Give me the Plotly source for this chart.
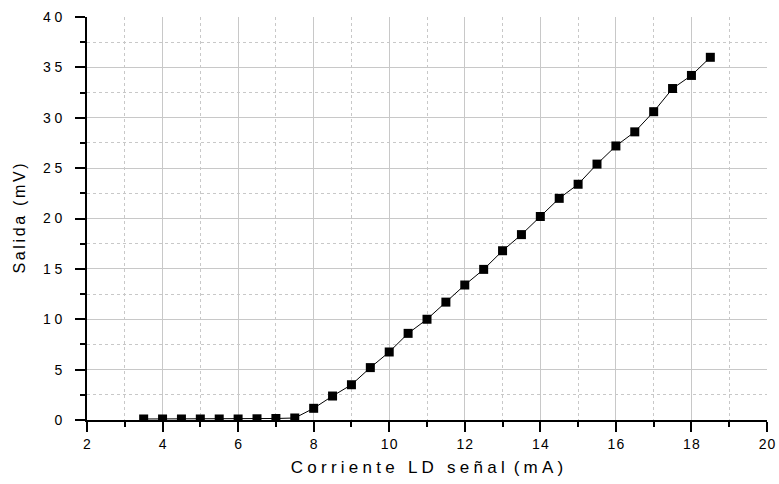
import plotly.graph_objects as go

# Laser diode drive current (mA) and measured output (mV)
corriente = [3.5, 4.0, 4.5, 5.0, 5.5, 6.0, 6.5, 7.0, 7.5, 8.0, 8.5, 9.0, 9.5, 10.0,
             10.5, 11.0, 11.5, 12.0, 12.5, 13.0, 13.5, 14.0, 14.5, 15.0, 15.5, 16.0,
             16.5, 17.0, 17.5, 18.0, 18.5]
salida = [0.1, 0.1, 0.1, 0.1, 0.1, 0.1, 0.12, 0.15, 0.2, 1.16, 2.38, 3.5, 5.2, 6.75,
          8.6, 10.0, 11.7, 13.4, 14.95, 16.8, 18.4, 20.2, 22.0, 23.4, 25.4, 27.2,
          28.6, 30.6, 32.9, 34.2, 36.0]

x_ticks = [2, 4, 6, 8, 10, 12, 14, 16, 18, 20]
y_ticks = [0, 5, 10, 15, 20, 25, 30, 35, 40]

QS = "\u2005"   # quarter-em letter spacing
SS = "\u2006"   # sixth-em letter spacing
HS = "\u200a"   # hair space
NB = "\u00a0"   # non-breaking word space


def spaced(s, sp=QS):
    return sp.join(NB if c == " " else c for c in s)


fig = go.Figure()
fig.add_trace(go.Scatter(
    x=corriente, y=salida, mode="lines+markers",
    line=dict(color="black", width=1),
    marker=dict(symbol="square", size=9, color="black"),
    showlegend=False,
))

font = "Liberation Sans"
axis_common = dict(
    showline=True, linecolor="black", linewidth=2,
    ticks="outside", ticklen=10, tickwidth=2, tickcolor="black",
    showgrid=True, gridcolor="#c8c8c8", gridwidth=1,
    zeroline=False, mirror=False, automargin=False,
    tickfont=dict(family=font, size=14, color="black"),
)

word_gap = QS + NB + QS
x_title = (word_gap.join([spaced("Corriente"), spaced("LD"), spaced("señal")])
           + QS + NB + spaced("(mA)"))
y_title = spaced("Salida (mV)", SS)

fig.update_xaxes(
    range=[2, 20], tickvals=x_ticks, ticktext=[spaced(str(v), HS) for v in x_ticks],
    minor=dict(dtick=1, tick0=2, ticks="outside", ticklen=5, tickwidth=2,
               tickcolor="black", showgrid=True, gridcolor="#c8c8c8",
               griddash="dot", gridwidth=1),
    title=dict(text=x_title, font=dict(family=font, size=17, color="black"), standoff=10),
    **axis_common,
)
fig.update_yaxes(
    range=[0, 40], tickvals=y_ticks, ticktext=[spaced(str(v)) for v in y_ticks],
    ticklabelstandoff=10,
    minor=dict(dtick=2.5, tick0=0, ticks="outside", ticklen=5, tickwidth=2,
               tickcolor="black", showgrid=True, gridcolor="#c8c8c8",
               griddash="dot", gridwidth=1),
    title=dict(text=y_title, font=dict(family=font, size=16, color="black"),
               standoff=14),
    **axis_common,
)

fig.update_layout(
    width=779, height=484,
    margin=dict(l=87, r=12, t=17, b=64),
    plot_bgcolor="white", paper_bgcolor="white",
    font=dict(family=font, color="black"),
)

fig.write_html("out.html")
